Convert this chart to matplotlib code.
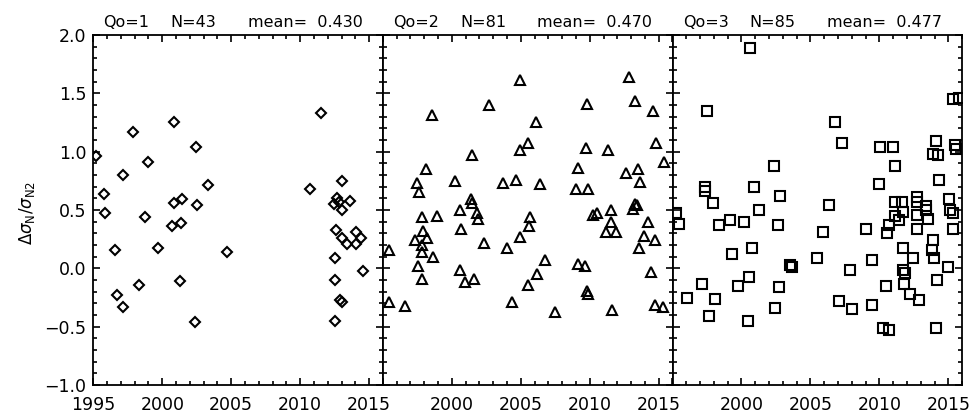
#Delta sigma_N / sigma_N2 per quality class, three panels side by side
import matplotlib
matplotlib.use('Agg')
import matplotlib.pyplot as plt
from matplotlib.ticker import MultipleLocator

#%% Data

qo1_year = [1995.20, 1995.75, 1995.87, 1996.54, 1996.72, 1997.13, 1997.13, 1997.86, 1998.30, 1998.73,
            1998.95, 1999.67, 2000.71, 2000.82, 2000.84, 2001.39, 2001.44, 2001.32, 2002.43, 2002.51,
            2002.36, 2003.34, 2004.71, 2010.72, 2011.52,
            2013.00, 2012.70, 2013.63, 2012.46, 2013.00, 2012.80, 2012.59, 2013.07, 2013.43, 2014.04,
            2014.04, 2014.40, 2012.51, 2014.57, 2012.51, 2012.90, 2013.00, 2012.51]
qo1_val = [0.96, 0.64, 0.47, 0.16, -0.23, -0.33, 0.80, 1.17, -0.14, 0.44,
           0.91, 0.17, 0.36, 1.25, 0.56, 0.39, 0.59, -0.11, 1.04, 0.54,
           -0.46, 0.71, 0.14, 0.68, 1.33,
           0.75, 0.60, 0.58, 0.55, 0.50, 0.57, 0.33, 0.26, 0.21, 0.21,
           0.31, 0.26, 0.09, -0.02, -0.10, -0.27, -0.29, -0.45]

qo2_year = [2004.94, 2012.84, 1998.53, 2002.70, 2009.83, 2013.25, 2014.57, 2006.08, 2005.55, 2004.94,
            2009.75, 2011.32, 2014.79, 2001.43, 2015.37, 1998.16, 2009.14, 2012.60, 2013.51, 1997.46,
            1997.63, 2000.24, 2003.74, 2004.68, 2006.37, 2013.63, 2008.98, 2009.90, 2001.37, 2013.27,
            1995.41, 1995.41, 1996.60, 1997.80, 1998.91, 1997.92, 1997.32, 1998.18, 1997.82, 1997.80,
            1998.60, 1997.52, 1997.82, 2000.58, 2000.65, 2001.46, 2001.80, 2001.93, 2002.34, 2000.60,
            2000.94, 2001.62, 2003.98, 2004.35, 2004.94, 2005.65, 2005.59, 2006.73, 2006.20, 2005.52,
            2007.46, 2009.18, 2009.65, 2009.77, 2009.87, 2010.27, 2010.51, 2011.56, 2011.56, 2011.15,
            2011.87, 2011.63, 2013.15, 2013.40, 2014.22, 2013.92, 2013.56, 2014.73, 2014.41, 2014.70,
            2015.33]
qo2_val = [1.61, 1.64, 1.31, 1.40, 1.41, 1.43, 1.35, 1.25, 1.07, 1.01,
           1.03, 1.01, 1.07, 0.97, 0.91, 0.85, 0.86, 0.82, 0.85, 0.73,
           0.65, 0.75, 0.73, 0.76, 0.72, 0.74, 0.68, 0.68, 0.59, 0.55,
           0.16, -0.29, -0.32, 0.44, 0.45, 0.32, 0.24, 0.26, 0.20, 0.14,
           0.10, 0.02, -0.09, 0.50, 0.34, 0.56, 0.47, 0.42, 0.22, -0.01,
           -0.12, -0.09, 0.17, -0.29, 0.27, 0.44, 0.36, 0.07, -0.05, -0.14,
           -0.37, 0.04, 0.02, -0.19, -0.22, 0.46, 0.47, 0.50, 0.40, 0.31,
           0.31, -0.36, 0.51, 0.54, 0.40, 0.28, 0.17, 0.24, -0.03, -0.31,
           -0.33]

qo3_year = [2000.60, 1997.51, 2006.80, 2015.37, 2015.80, 2007.29, 2010.06, 2011.02, 2014.12, 2013.92,
            2014.22, 2015.50, 2015.57, 2002.34, 2011.15, 2014.36, 1997.39, 1997.39, 2000.89, 2002.82,
            2009.94, 1997.95, 2006.37, 2011.15, 2011.63, 2012.71, 2012.71, 2013.41, 2015.06,
            1995.22, 1995.46, 1998.35, 1999.20, 2000.22, 2001.25, 2002.62, 2005.89, 2009.05, 2010.59,
            2010.72, 2011.15, 2011.41, 2011.75, 2012.71, 2012.71, 2013.40, 2013.56, 2015.13, 2015.37,
            2015.37,
            1999.32, 2000.76, 2003.55, 2003.66, 2005.48, 2007.89, 2009.50, 2011.75, 2012.47, 2013.92,
            2013.80, 2013.99, 2015.01, 2011.75, 2011.87, 2014.16,
            1997.15, 1996.02, 1998.07, 1997.63, 1999.76, 2000.58, 2000.45, 2002.70, 2002.46, 2007.10,
            2008.01, 2009.46, 2010.50, 2011.82, 2012.23, 2012.84, 2010.30, 2010.67, 2014.12]
qo3_val = [1.89, 1.35, 1.25, 1.45, 1.46, 1.07, 1.04, 1.04, 1.09, 0.98,
           0.97, 1.06, 1.02, 0.88, 0.88, 0.76, 0.70, 0.66, 0.70, 0.62,
           0.72, 0.56, 0.54, 0.57, 0.57, 0.61, 0.57, 0.53, 0.59,
           0.47, 0.38, 0.37, 0.41, 0.40, 0.50, 0.37, 0.31, 0.34, 0.30,
           0.37, 0.45, 0.41, 0.48, 0.46, 0.34, 0.50, 0.42, 0.50, 0.47,
           0.34,
           0.12, 0.17, 0.03, 0.01, 0.09, -0.01, 0.07, 0.17, 0.09, 0.24,
           0.16, 0.09, 0.01, -0.01, -0.04, -0.10,
           -0.13, -0.25, -0.26, -0.41, -0.15, -0.07, -0.45, -0.16, -0.34, -0.28,
           -0.35, -0.31, -0.15, -0.13, -0.22, -0.27, -0.51, -0.53, -0.51]

qo_class = [1, 2, 3]
qo_n = [43, 81, 85]
qo_mean = [0.430, 0.470, 0.477]
qo_marker = ['D', '^', 's']
qo_msize = [5.2, 7, 7.3]

years = [qo1_year, qo2_year, qo3_year]
vals = [qo1_val, qo2_val, qo3_val]

xticks = [1995, 2000, 2005, 2010, 2015]

#%% Figure

fig = plt.figure(figsize=(9.71, 4.19), dpi=100)

left = 93.3 / 971
width = 289.6 / 971
bottom = 34 / 419
height = 350 / 419

for i in range(3):
    ax = fig.add_axes([left + i * width, bottom, width, height])

    ax.plot(years[i], vals[i], linestyle='none', marker=qo_marker[i], ms=qo_msize[i],
            mfc='none', mec='black', mew=1.5)

    ax.set_xlim(1995, 2016)
    ax.set_ylim(-1.0, 2.0)

    ax.xaxis.set_minor_locator(MultipleLocator(1))
    ax.yaxis.set_minor_locator(MultipleLocator(0.1))

    ax.set_xticks(xticks)
    ax.set_yticks([-1.0, -0.5, 0.0, 0.5, 1.0, 1.5, 2.0])
    if i == 0:
        ax.set_xticklabels([str(t) for t in xticks])
        ax.set_yticklabels(['\u22121.0', '\u22120.5', '0.0', '0.5', '1.0', '1.5', '2.0'])
    else:
        ax.set_xticklabels([''] + [str(t) for t in xticks[1:]])
        ax.set_yticklabels([])

    ax.tick_params(which='both', direction='in', top=True, right=True, width=1.2, colors='black')
    ax.tick_params(which='major', length=5)
    ax.tick_params(which='minor', length=2.8)
    ax.tick_params(axis='x', which='major', pad=8, labelsize=12.5)
    ax.tick_params(axis='y', which='major', pad=5, labelsize=12.5)

    for sp in ax.spines.values():
        sp.set_linewidth(1.3)

    ax.text(0.035, 1.023, 'Qo=' + str(qo_class[i]), transform=ax.transAxes,
            fontsize=11.5, va='baseline', ha='left')
    ax.text(0.266, 1.023, 'N=' + str(qo_n[i]), transform=ax.transAxes,
            fontsize=11.5, va='baseline', ha='left')
    ax.text(0.533, 1.023, 'mean=  %.3f' % qo_mean[i], transform=ax.transAxes,
            fontsize=11.5, va='baseline', ha='left')

fig.text(27 / 971, 1 - 213 / 419, r'$\Delta\sigma_{\rm N}/\sigma_{\rm N2}$', rotation=90,
         ha='center', va='center', fontsize=12)

fig.savefig('out.png', dpi=100)
plt.close()
